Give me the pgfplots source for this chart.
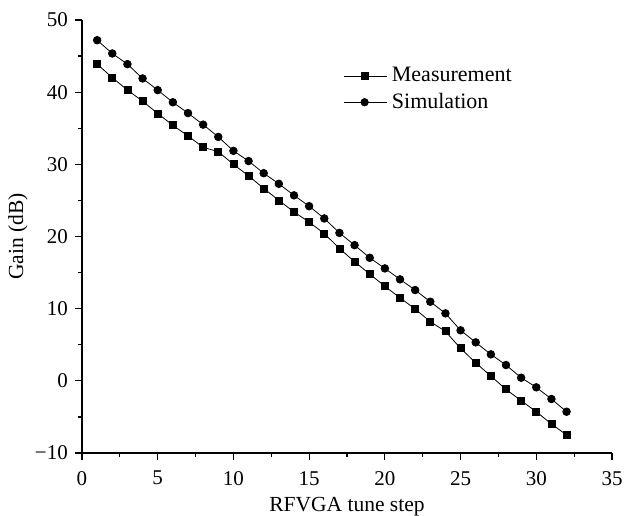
\documentclass[border=0pt]{standalone}
\usepackage{pgfplots}
\pgfplotsset{compat=1.18}
\usepackage{fontspec}
\setmainfont{Liberation Serif}
\begin{document}
\fontsize{21}{25}\selectfont
\begin{tikzpicture}
\begin{axis}[
  scale only axis, width=530pt, height=433pt,
  xmin=0, xmax=35, ymin=-10, ymax=50,
  axis x line=bottom, axis y line=left,
  axis line style={-, line width=1.3pt},
  xtick={0,5,...,35}, ytick={-10,0,...,50},
  yticklabels={−10,0,10,20,30,40,50},
  minor x tick num=1, minor y tick num=1,
  tick align=outside, major tick length=7pt, minor tick length=4pt,
  every tick/.style={black, line width=1.2pt},
  /pgf/number format/assume math mode=true,
  tick label style={font=\fontsize{21}{25}\selectfont},
  xticklabel style={yshift=-4pt},
  label style={font=\fontsize{21.5}{25}\selectfont},
  xlabel={RFVGA tune step}, ylabel={Gain (dB)},
  xlabel shift=-2pt, ylabel shift=-7pt,
  legend style={draw=none, fill=none, at={(0.487,0.90)}, anchor=north west,
    font=\fontsize{22}{25}\selectfont, row sep=4pt,
    /tikz/every odd column/.append style={column sep=3pt}},
  legend cell align=left,
  legend image code/.code={\draw[line width=0.6pt,mark repeat=2,mark phase=2] plot coordinates {(0pt,0pt)(21pt,0pt)(43pt,0pt)};},
  clip=false,
]
\addplot[black, line width=0.8pt, mark=square*, mark size=3.5pt] coordinates {
(1,43.9)(2,42.0)(3,40.3)(4,38.75)(5,37.05)(6,35.4)(7,33.95)(8,32.35)(9,31.75)(10,30.0)
(11,28.4)(12,26.66)(13,25.0)(14,23.4)(15,22.0)(16,20.4)(17,18.35)(18,16.5)(19,14.8)(20,13.1)
(21,11.5)(22,9.95)(23,8.2)(24,6.85)(25,4.5)(26,2.5)(27,0.66)(28,-1.18)(29,-2.75)(30,-4.28)
(31,-5.98)(32,-7.5)};
\addlegendentry{Measurement}
\addplot[black, line width=0.8pt, mark=*, mark size=3.8pt] coordinates {
(1,47.2)(2,45.36)(3,43.88)(4,41.9)(5,40.28)(6,38.6)(7,37.1)(8,35.5)(9,33.8)(10,31.87)
(11,30.45)(12,28.77)(13,27.3)(14,25.7)(15,24.2)(16,22.5)(17,20.5)(18,18.8)(19,17.05)(20,15.58)
(21,14.06)(22,12.58)(23,10.96)(24,9.35)(25,7.0)(26,5.33)(27,3.67)(28,2.19)(29,0.43)(30,-0.9)
(31,-2.52)(32,-4.28)};
\addlegendentry{Simulation}
\end{axis}
\pgfresetboundingbox
\path ([shift={(-82pt,-63pt)}]current axis.south west) rectangle ([shift={(23pt,20pt)}]current axis.north east);
\end{tikzpicture}
\end{document}
